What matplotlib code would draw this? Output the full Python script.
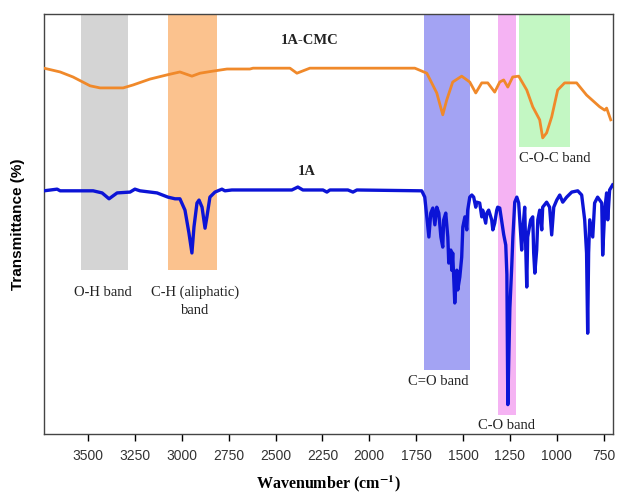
import numpy as np
from matplotlib import pyplot as plt

plt.rcParams['mathtext.fontset'] = 'stix'

# 1A-CMC spectrum (wavenumber, transmittance)
cmc_wn = [3735, 3649, 3580, 3489, 3436, 3313, 3260, 3170, 3079, 3010, 2946, 2903,
          2834, 2759, 2637, 2620, 2423, 2386, 2317, 1757, 1746, 1693, 1640, 1608,
          1587, 1555, 1507, 1464, 1432, 1400, 1368, 1331, 1304, 1283, 1261, 1235,
          1203, 1160, 1128, 1091, 1075, 1054, 1027, 995, 958, 894, 841, 771, 744,
          734, 712]
cmc_t = [87.1, 86.2, 85.0, 82.9, 82.4, 82.4, 83.1, 84.5, 85.5, 86.2, 85.2, 85.9,
         86.4, 86.9, 86.9, 87.1, 87.1, 85.9, 87.1, 87.1, 86.9, 85.9, 81.2, 76.0,
         79.5, 83.8, 85.2, 83.8, 81.2, 83.6, 83.6, 81.4, 83.8, 84.3, 82.6, 85.0,
         85.2, 81.9, 77.9, 74.8, 70.5, 71.7, 75.5, 81.9, 83.6, 83.6, 80.7, 77.9, 77.1,
         77.6, 74.8]

# 1A spectrum
a_wn = [3735, 3665, 3649, 3473, 3425, 3388, 3345, 3276, 3250, 3223, 3132, 3074,
        3036, 3010, 2983, 2962, 2946, 2935, 2919, 2908, 2892, 2876, 2866, 2850,
        2823, 2786, 2770, 2733, 2413, 2381, 2354, 2247, 2226, 2210, 2114, 2087,
        2066, 1720, 1704, 1693, 1682, 1672, 1661, 1650, 1640, 1629, 1618, 1608,
        1603, 1592, 1581, 1576, 1565, 1560, 1555, 1549, 1544, 1539, 1533, 1528,
        1517, 1507, 1501, 1490, 1480, 1475, 1464, 1453, 1443, 1432, 1427, 1411,
        1400, 1395, 1379, 1373, 1363, 1347, 1341, 1331, 1320, 1315, 1304, 1293,
        1283, 1272, 1266, 1261, 1250, 1240, 1234, 1224, 1213, 1203, 1187, 1181,
        1171, 1160, 1155, 1139, 1128, 1123, 1117, 1107, 1101, 1091, 1080, 1075,
        1054, 1038, 1027, 1016, 1000, 984, 968, 947, 920, 888, 867, 851, 841, 835,
        830, 824, 808, 798, 782, 760, 755, 744, 734, 728, 718, 702]
a_t = [57.9, 58.3, 57.9, 57.9, 57.4, 56.0, 57.4, 57.6, 58.3, 57.9, 57.4, 56.4,
       56.0, 56.0, 53.3, 47.9, 43.1, 49.3, 55.0, 55.7, 54.0, 49.0, 51.7, 56.4,
       57.6, 58.3, 57.9, 58.1, 58.1, 58.8, 58.1, 58.1, 57.6, 58.1, 58.1, 57.6,
       58.1, 57.9, 56.4, 51.7, 46.9, 52.6, 53.8, 49.8, 54.0, 52.6, 46.9, 44.5,
       51.0, 52.6, 46.9, 40.7, 43.8, 39.0, 43.1, 36.7, 31.2, 35.0, 39.0, 34.3,
       37.4, 42.1, 49.3, 51.7, 48.6, 53.3, 56.4, 56.9, 56.4, 54.0, 55.2, 55.0,
       51.7, 53.3, 50.2, 52.6, 53.3, 51.0, 48.6, 50.2, 53.3, 54.0, 53.8, 50.5,
       47.5, 45.0, 38.0, 7.0, 30.0, 40.0, 46.9, 55.2, 56.4, 55.0, 43.8, 48.6,
       54.0, 35.0, 46.9, 51.0, 51.7, 43.1, 38.3, 43.8, 51.0, 53.3, 48.6, 54.0,
       55.2, 54.0, 47.4, 54.0, 55.7, 56.9, 55.2, 56.4, 57.6, 57.9, 56.9, 51.0, 43.1, 24.0,
       43.1, 51.0, 46.9, 55.0, 56.4, 55.0, 42.6, 53.3, 57.4, 51.0, 58.1, 59.3]

# shaded bands
band_hi = [3540, 3074, 1709, 1315, 1203]
band_lo = [3287, 2812, 1464, 1218, 931]
band_bottom = [39.0, 39.0, 15.2, 4.5, 68.3]
band_colors = ['#d4d4d4', '#fbc28e', '#a3a3f3', '#f5b3f3', '#c3f7c3']

labels = ['1A-CMC', '1A', 'O-H band', 'C-H (aliphatic)\nband', 'C=O band', 'C-O band', 'C-O-C band']
label_x = [2317, 2333, 3420, 2930, 1634, 1267, 1011]
label_y = [93.8, 62.4, 33.6, 31.7, 12.4, 2.1, 65.7]

fig = plt.figure(figsize=(6.17, 4.98), dpi=100)
ax = fig.add_axes([0.0713, 0.1285, 0.9222, 0.8434])

for i in range(len(band_hi)):
    ax.fill_between([band_lo[i], band_hi[i]], band_bottom[i], 100,
                    color=band_colors[i], lw=0, zorder=1)

ax.plot(cmc_wn, cmc_t, color='#f0892a', lw=2.0, zorder=3)
ax.plot(a_wn, a_t, color='#0c14d6', lw=2.4, zorder=3)

for i in range(len(labels)):
    bold = i < 2
    ax.text(label_x[i], label_y[i], labels[i], ha='center', va='center',
            family='Liberation Serif', fontsize=10.5,
            weight='bold' if bold else 'normal', color='#222222',
            linespacing=1.5, zorder=4)

ax.set_xlim(3735, 700)
ax.set_ylim(0, 100)
ax.set_xticks(np.arange(3500, 700, -250))
ax.set_yticks([])
ax.tick_params(axis='x', direction='out', length=5, width=1, labelsize=10,
               labelcolor='#333333', pad=6)
for lab in ax.get_xticklabels():
    lab.set_family('Liberation Sans')
for s in ax.spines.values():
    s.set_color('#444444')
    s.set_linewidth(1.0)

ax.set_xlabel('Wavenumber (cm$^{\\mathbf{-1}}$)', family='Liberation Serif', weight='bold',
              fontsize=11.5, labelpad=7)
ax.set_ylabel('Transmittance (%)', family='Liberation Sans', weight='bold',
              fontsize=11, labelpad=14)

fig.savefig('out.png', dpi=100)
